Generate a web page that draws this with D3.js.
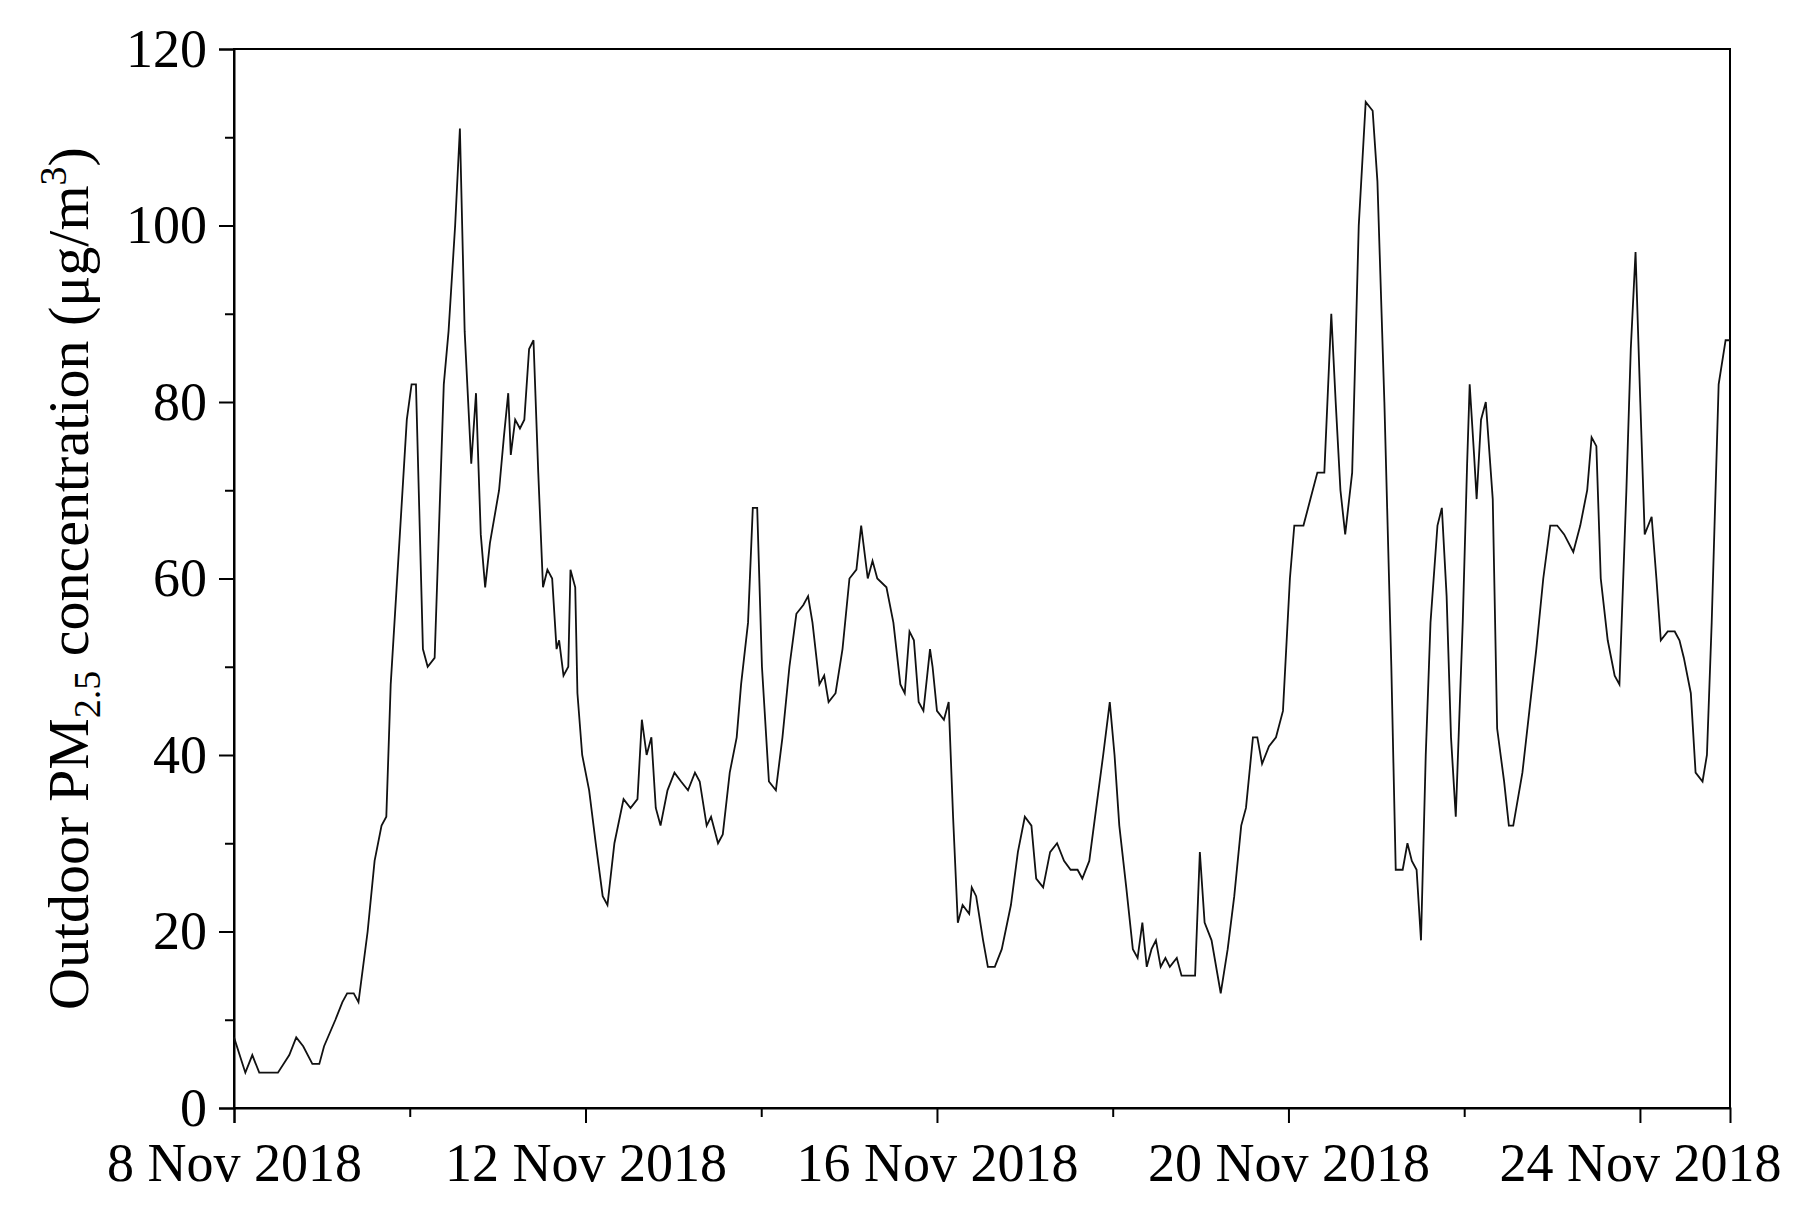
<!DOCTYPE html>
<html><head><meta charset="utf-8">
<script src="https://cdn.jsdelivr.net/npm/d3@7"></script>
<style>body{margin:0;background:#fff}</style>
</head><body>
<svg id="chart" width="1808" height="1229"></svg>
<script>
// hours since 8 Nov 2018 00:00
const hours = [0,3.1,5.0,6.9,12.0,15.1,17.0,18.9,21.4,23.3,24.6,27.7,29.6,30.9,32.7,34.0,36.5,38.4,40.3,41.6,42.8,45.3,47.2,48.5,49.7,51.6,52.9,54.8,57.3,58.6,60.4,61.7,63.0,64.8,66.1,67.4,68.6,69.9,72.4,73.7,74.9,75.6,76.8,78.1,79.3,80.6,81.8,83.1,84.4,85.6,86.9,88.1,88.8,90.0,91.3,91.9,93.2,93.8,95.1,97.0,98.8,100.7,102.0,103.9,106.4,108.3,110.2,111.4,112.7,114.0,115.2,116.5,118.4,120.3,122.1,124.0,125.9,127.2,129.1,130.3,132.2,133.5,135.4,137.3,138.5,140.4,141.7,142.9,144.2,146.1,148.0,149.8,151.7,153.6,155.5,156.8,158.0,159.9,161.2,162.4,164.3,166.2,168.1,170.0,171.3,173.1,174.4,175.7,178.2,180.1,182.0,183.2,184.5,185.7,187.0,188.3,190.1,190.8,192.0,193.9,195.2,196.4,197.7,199.0,200.8,201.5,202.7,204.6,205.9,207.8,209.7,212.2,214.1,216.0,217.8,219.1,221.0,222.9,224.8,226.7,228.5,230.4,231.7,233.6,235.5,237.4,239.2,240.5,241.8,243.7,245.5,246.8,248.1,249.3,250.6,251.8,253.1,254.4,255.6,257.5,258.8,260.0,262.5,263.8,265.1,267.0,269.5,271.4,273.2,275.1,276.4,278.3,279.5,280.8,282.7,284.6,286.5,288.4,289.6,292.1,294.0,295.9,297.8,299.7,300.9,302.2,303.5,305.4,307.2,309.1,311.0,312.3,314.2,316.1,317.3,319.2,320.5,321.7,323.0,324.2,325.5,326.8,328.7,329.9,331.2,332.4,333.7,335.6,336.8,337.5,338.7,339.4,340.6,341.9,343.8,345.0,346.9,348.2,349.4,351.9,353.8,355.7,357.6,359.5,361.4,363.3,365.8,367.7,369.6,370.8,372.1,373.3,375.2,377.1,378.4,380.3,381.5,382.8,384.1,385.3,387.2,388.5,389.7,391.6,393.5,394.8,396.0,397.9,399.2,401.1,402.3,403.6,405.5,407.4,408.6];
const pm25 = [8,4,6,4,4,6,8,7,5,5,7,10,12,13,13,12,20,28,32,33,48,65,78,82,82,52,50,51,82,88,100,111,88,73,81,65,59,64,70,76,81,74,78,77,78,86,87,72,59,61,60,52,53,49,50,61,59,47,40,36,30,24,23,30,35,34,35,44,40,42,34,32,36,38,37,36,38,37,32,33,30,31,38,42,48,55,68,68,50,37,36,42,50,56,57,58,55,48,49,46,47,52,60,61,66,60,62,60,59,55,48,47,54,53,46,45,52,50,45,44,46,33,21,23,22,25,24,19,16,16,18,23,29,33,32,26,25,29,30,28,27,27,26,28,34,40,46,40,32,25,18,17,21,16,18,19,16,17,16,17,15,15,15,29,21,19,13,18,24,32,34,42,42,39,41,42,45,60,66,66,69,72,72,90,80,70,65,72,100,114,113,105,80,50,27,27,30,28,27,19,40,55,66,68,58,42,33,55,73,82,74,69,78,80,69,43,37,32,32,38,45,52,60,66,66,65,63,66,70,76,75,60,53,49,48,70,86,97,80,65,67,60,53,54,54,53,51,47,38,37,40,55,82,87,87];
const xTickDays = [8, 12, 16, 20, 24];
const yTicks = [0, 20, 40, 60, 80, 100, 120];

const start = new Date(2018, 10, 8);
const data = hours.map((h, i) => ({ t: new Date(+start + h * 3600e3), v: pm25[i] }));

const margin = { top: 49, right: 78, bottom: 121, left: 234 };
const W = 1808, H = 1229;
const svg = d3.select("#chart");
const font = "Liberation Serif, Times New Roman, serif";

const x = d3.scaleTime()
    .domain([start, new Date(+start + 408.6 * 3600e3)])
    .range([margin.left, W - margin.right]);
const y = d3.scaleLinear().domain([0, 120]).range([H - margin.bottom, margin.top]);

// minor ticks
svg.append("g").attr("transform", `translate(0,${H - margin.bottom})`)
    .call(d3.axisBottom(x).tickValues([10, 14, 18, 22].map(d => new Date(2018, 10, d))).tickSize(9).tickFormat(""))
    .call(g => g.select(".domain").remove());
svg.append("g").attr("transform", `translate(${margin.left},0)`)
    .call(d3.axisLeft(y).tickValues(d3.range(10, 120, 20)).tickSize(9).tickFormat(""))
    .call(g => g.select(".domain").remove());

svg.append("g").attr("transform", `translate(0,${H - margin.bottom})`)
    .call(d3.axisBottom(x).tickValues(xTickDays.map(d => new Date(2018, 10, d)))
        .tickSize(15).tickPadding(20).tickFormat(d => `${d.getDate()} Nov 2018`));
svg.append("g").attr("transform", `translate(${margin.left},0)`)
    .call(d3.axisLeft(y).tickValues(yTicks).tickSize(15).tickPadding(12));

svg.selectAll(".tick text").attr("font-family", font).attr("font-size", 54).attr("fill", "#000");
svg.selectAll(".tick line, .domain").attr("stroke", "#000").attr("stroke-width", 2);

// frame
svg.append("rect").attr("x", margin.left).attr("y", margin.top)
    .attr("width", W - margin.left - margin.right).attr("height", H - margin.top - margin.bottom)
    .attr("fill", "none").attr("stroke", "#000").attr("stroke-width", 2);

svg.append("path").datum(data)
    .attr("fill", "none").attr("stroke", "#111").attr("stroke-width", 1.8)
    .attr("d", d3.line().x(d => x(d.t)).y(d => y(d.v)));

const lab = svg.append("text")
    .attr("transform", `translate(88,${(margin.top + H - margin.bottom) / 2}) rotate(-90)`)
    .attr("text-anchor", "middle").attr("font-family", font).attr("font-size", 58);
lab.append("tspan").text("Outdoor PM");
lab.append("tspan").attr("font-size", 38).attr("dy", 12).text("2.5");
lab.append("tspan").attr("dy", -12).text(" concentration (μg/m");
lab.append("tspan").attr("font-size", 38).attr("dy", -22).text("3");
lab.append("tspan").attr("dy", 22).text(")");
</script>
</body></html>
